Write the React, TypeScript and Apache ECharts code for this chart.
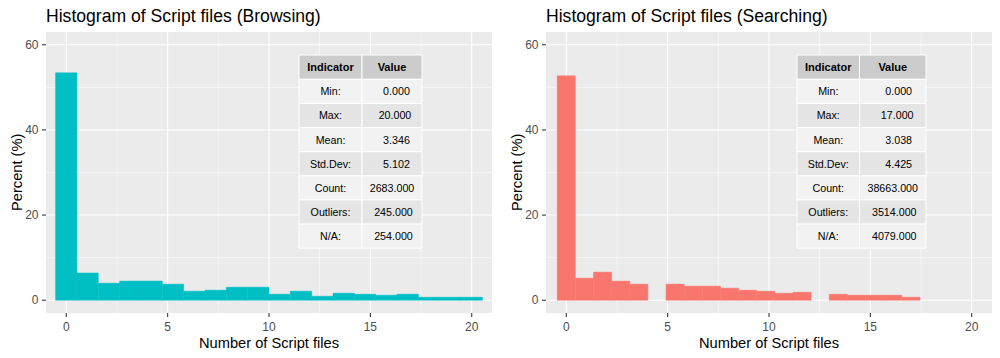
import React, { useEffect, useRef } from "react";
import * as echarts from "echarts";

// ---- data ----
const browsingPercent = [53.4, 6.4, 4.0, 4.5, 4.5, 3.77, 2.12, 2.36, 3.06, 3.06, 1.41, 2.12, 0.94, 1.65, 1.41, 1.18, 1.41, 0.71, 0.71, 0.71];
const searchingPercent = [52.7, 5.18, 6.6, 4.48, 3.77, 0, 3.77, 3.3, 3.3, 2.83, 2.36, 2.12, 1.65, 1.88, 0, 1.41, 1.18, 1.18, 1.18, 0.71];
const browsingMax = 20;
const searchingMax = 17;
const binCount = 20;

const xTicks = [0, 5, 10, 15, 20];
const xMinor = [2.5, 7.5, 12.5, 17.5];
const yTicks = [0, 20, 40, 60];
const yMinor = [10, 30, 50];

const indicatorLabels = ["Min:", "Max:", "Mean:", "Std.Dev:", "Count:", "Outliers:", "N/A:"];
const browsingStats = [0, 20, 3.346, 5.102, 2683, 245, 254];
const searchingStats = [0, 17, 3.038, 4.425, 38663, 3514, 4079];
const tableHeader = ["Indicator", "Value"];

const titles = ["Histogram of Script files (Browsing)", "Histogram of Script files (Searching)"];
const xAxisTitle = "Number of Script files";
const yAxisTitle = "Percent (%)";
const colors = ["#00BFC4", "#F8766D"];

const FONT = "'Liberation Sans', Arial, sans-serif";

function binData(pcts: number[], max: number) {
  const w = max / (binCount - 1);
  return pcts.map((p, i) => [i * w - w / 2, i * w + w / 2, p]);
}

function gridData() {
  const d: number[][] = [];
  xMinor.forEach((v) => d.push([0, v, 0]));
  yMinor.forEach((v) => d.push([1, v, 0]));
  xTicks.forEach((v) => d.push([0, v, 1]));
  yTicks.forEach((v) => d.push([1, v, 1]));
  // tick marks outside the panel
  xTicks.forEach((v) => d.push([2, v, 1]));
  yTicks.forEach((v) => d.push([3, v, 1]));
  return d;
}

function fmtStats(stats: number[]) {
  const s = stats.map((v) => v.toFixed(3));
  const len = Math.max(...s.map((t) => t.length));
  return s.map((t) => "\u00A0".repeat(len - t.length) + t);
}

export default function App() {
  const ref = useRef<HTMLDivElement>(null);
  useEffect(() => {
    if (!ref.current) return;
    const chart = echarts.init(ref.current, undefined, { renderer: "svg" });

    const panels = [
      { left: 46, pct: browsingPercent, max: browsingMax, stats: browsingStats, tx: 299, cw: [63, 60] },
      { left: 546, pct: searchingPercent, max: searchingMax, stats: searchingStats, tx: 797, cw: [62.5, 66.5] },
    ];
    const panelW = 446;
    const top = 32;
    const bottom = 45;

    const grids: any[] = [];
    const xAxes: any[] = [];
    const yAxes: any[] = [];
    const series: any[] = [];
    const graphics: any[] = [];

    panels.forEach((p, k) => {
      grids.push({
        left: p.left,
        width: panelW,
        top,
        bottom,
        show: true,
        backgroundColor: "#EBEBEB",
        borderWidth: 0,
      });
      xAxes.push({
        type: "value",
        gridIndex: k,
        min: -1,
        max: 21,
        splitNumber: 5,
        splitLine: { show: false },
        axisLine: { show: false, onZero: false },
        axisTick: { show: false },
        axisLabel: {
          color: "#4D4D4D", fontSize: 12, fontFamily: FONT, margin: 8,
          showMinLabel: false, showMaxLabel: false,
          formatter: (v: number) => (xTicks.indexOf(v) >= 0 ? String(v) : ""),
        },
      });
      yAxes.push({
        type: "value",
        gridIndex: k,
        min: -3,
        max: 63,
        splitNumber: 3,
        splitLine: { show: false },
        axisLine: { show: false, onZero: false },
        axisTick: { show: false },
        axisLabel: {
          color: "#4D4D4D", fontSize: 12, fontFamily: FONT, margin: 7.5,
          showMinLabel: false, showMaxLabel: false,
          formatter: (v: number) => (yTicks.indexOf(v) >= 0 ? String(v) : ""),
        },
      });
      series.push({
        type: "custom",
        xAxisIndex: k,
        yAxisIndex: k,
        z: 1,
        clip: false,
        silent: true,
        data: gridData(),
        renderItem: (params: any, api: any) => {
          const cs = params.coordSys;
          const o = api.value(0);
          const v = api.value(1);
          const maj = api.value(2);
          const lw = maj ? 1.07 : 0.53;
          if (o === 0) {
            const x = api.coord([v, 0])[0];
            return { type: "line", z2: 0, shape: { x1: x, y1: cs.y, x2: x, y2: cs.y + cs.height }, style: { stroke: "#FFFFFF", lineWidth: lw } };
          }
          if (o === 1) {
            const y = api.coord([0, v])[1];
            return { type: "line", z2: 0, shape: { x1: cs.x, y1: y, x2: cs.x + cs.width, y2: y }, style: { stroke: "#FFFFFF", lineWidth: lw } };
          }
          if (o === 2) {
            const x = api.coord([v, 0])[0];
            const yb = cs.y + cs.height;
            return { type: "line", z2: 0, shape: { x1: x, y1: yb, x2: x, y2: yb + 4 }, style: { stroke: "#333333", lineWidth: 1.07 } };
          }
          const y = api.coord([0, v])[1];
          return { type: "line", z2: 0, shape: { x1: cs.x - 4, y1: y, x2: cs.x, y2: y }, style: { stroke: "#333333", lineWidth: 1.07 } };
        },
      });
      series.push({
        type: "custom",
        xAxisIndex: k,
        yAxisIndex: k,
        z: 5,
        silent: true,
        encode: { x: [0, 1], y: 2 },
        data: binData(p.pct, p.max),
        renderItem: (params: any, api: any) => {
          const h = api.value(2);
          if (!h) return { type: "group", children: [] };
          const p0 = api.coord([api.value(0), h]);
          const p1 = api.coord([api.value(1), 0]);
          return {
            type: "rect",
            z2: 10,
            shape: { x: p0[0], y: p0[1], width: p1[0] - p0[0], height: p1[1] - p0[1] },
            style: { fill: colors[k], stroke: colors[k], lineWidth: 0.5 },
          };
        },
      });

      // titles
      graphics.push({
        type: "text", x: p.left, y: 15.6, z: 10,
        style: { text: titles[k], fontSize: 17.6, fontFamily: FONT, fill: "#000000", align: "left", verticalAlign: "middle" },
      });
      graphics.push({
        type: "text", x: p.left + panelW / 2, y: 343.2, z: 10,
        style: { text: xAxisTitle, fontSize: 14.67, fontFamily: FONT, fill: "#000000", align: "center", verticalAlign: "middle" },
      });
      graphics.push({
        type: "text", x: p.left - 29.4, y: 172.3, rotation: Math.PI / 2, z: 10,
        style: { text: yAxisTitle, fontSize: 14.67, fontFamily: FONT, fill: "#000000", align: "center", verticalAlign: "middle" },
      });

      // stats table
      const ty0 = 55;
      const hh = 24.3;
      const rh = 24.13;
      const values = fmtStats(p.stats);
      const colX = [p.tx, p.tx + p.cw[0]];
      tableHeader.forEach((h, c) => {
        graphics.push({
          type: "rect", z: 20,
          shape: { x: colX[c], y: ty0, width: p.cw[c], height: hh },
          style: { fill: "#CCCCCC", stroke: "#FFFFFF", lineWidth: 1 },
        });
        graphics.push({
          type: "text", z: 21, x: colX[c] + p.cw[c] / 2, y: ty0 + hh / 2,
          style: { text: h, fontSize: 11, fontWeight: "bold", fontFamily: FONT, fill: "#000000", align: "center", verticalAlign: "middle" },
        });
      });
      indicatorLabels.forEach((lab, r) => {
        const y = ty0 + hh + r * rh;
        const fill = r % 2 === 0 ? "#F2F2F2" : "#E5E5E5";
        [lab, values[r]].forEach((t, c) => {
          graphics.push({
            type: "rect", z: 20,
            shape: { x: colX[c], y, width: p.cw[c], height: rh },
            style: { fill, stroke: "#FFFFFF", lineWidth: 1 },
          });
          graphics.push({
            type: "text", z: 21, x: colX[c] + p.cw[c] / 2, y: y + rh / 2,
            style: { text: t, fontSize: 10.7, fontFamily: FONT, fill: "#000000", align: "center", verticalAlign: "middle" },
          });
        });
      });
    });

    chart.setOption({
      animation: false,
      backgroundColor: "#FFFFFF",
      textStyle: { fontFamily: FONT },
      grid: grids,
      xAxis: xAxes,
      yAxis: yAxes,
      series,
      graphic: { elements: graphics },
    });
    return () => chart.dispose();
  }, []);
  return <div ref={ref} style={{ position: "absolute", left: 0, top: 0, width: 1000, height: 358 }} />;
}
